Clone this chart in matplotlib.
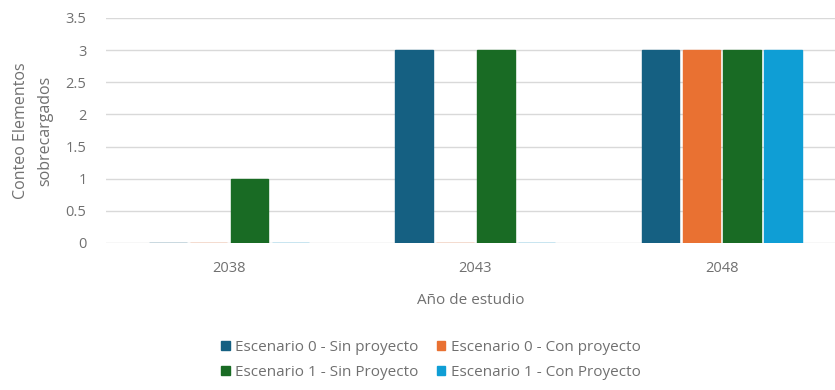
import matplotlib.pyplot as plt
import numpy as np

plt.rcParams['font.family'] = ['Open Sans', 'DejaVu Sans']

years = ['2038', '2043', '2048']
series_names = ['Escenario 0 - Sin proyecto', 'Escenario 0 - Con proyecto',
                'Escenario 1 - Sin Proyecto', 'Escenario 1 - Con Proyecto']
esc0_sin = [0, 3, 3]
esc0_con = [0, 0, 3]
esc1_sin = [1, 3, 3]
esc1_con = [0, 0, 3]
colors = ['#156082', '#E97132', '#196B24', '#0F9ED5']

values = [esc0_sin, esc0_con, esc1_sin, esc1_con]
gray = '#707070'

fig = plt.figure(figsize=(8.35, 3.9), dpi=100)
ax = fig.add_axes([0.127, 0.377, 0.873, 0.577])

x = np.arange(len(years))
bw = 0.152
step = 0.166
handles = []
for i, (vals, c) in enumerate(zip(values, colors)):
    pos = x + (i - 1.5) * step
    b = ax.bar(pos, vals, width=bw, color=c, label=series_names[i],
               edgecolor=c, linewidth=1.0, zorder=3)
    handles.append(b)

ax.set_ylim(0, 3.5)
ax.set_xlim(-0.5, 2.46)
ax.set_yticks(np.arange(0, 3.51, 0.5))
ax.set_yticklabels(['0', '0.5', '1', '1.5', '2', '2.5', '3', '3.5'])
ax.set_xticks(x)
ax.set_xticklabels(years)
ax.tick_params(axis='both', length=0, colors=gray, labelsize=10.5)
ax.tick_params(axis='x', pad=13)
ax.tick_params(axis='y', pad=14)
ax.grid(axis='y', color='#d9d9d9', linewidth=1, zorder=0)
for s in ax.spines.values():
    s.set_visible(False)

fig.text(0.040, 0.665, 'Conteo Elementos\nsobrecargados', rotation=90, ha='center',
         va='center', multialignment='center', color=gray, fontsize=11.5,
         linespacing=1.65)
ax.set_xlabel('Año de estudio', color=gray, fontsize=11, labelpad=12)

# legend fills column-wise, so reorder to get two rows of scenarios
order = [0, 2, 1, 3]
leg = fig.legend([handles[i] for i in order], [series_names[i] for i in order],
                 loc='center', bbox_to_anchor=(0.516, 0.078), ncol=2, frameon=False,
                 fontsize=11, handlelength=0.55, handleheight=0.55, handletextpad=0.35,
                 columnspacing=1.2, labelspacing=0.65)
for t in leg.get_texts():
    t.set_color(gray)

fig.savefig('out.png', dpi=100)
